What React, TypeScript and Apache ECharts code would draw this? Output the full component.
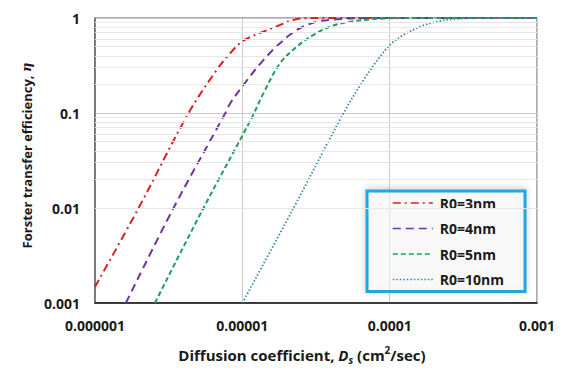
import React, { useEffect, useRef } from "react";
import * as echarts from "echarts";

// Diffusion coefficient (cm^2/sec) vs Forster transfer efficiency
const seriesNames = ["R0=3nm", "R0=4nm", "R0=5nm", "R0=10nm"];

const r0_3nm: [number, number][] = [
  [1e-6, 0.00148], [1.97e-6, 0.0099], [4.3e-6, 0.099], [6.7e-6, 0.284],
  [8.26e-6, 0.425], [1.016e-5, 0.577], [1.39e-5, 0.718], [1.8e-5, 0.843],
  [2.2e-5, 0.95], [2.57e-5, 0.993], [4e-5, 1], [1e-3, 1],
];
const r0_4nm: [number, number][] = [
  [1.62e-6, 0.001], [3.4e-6, 0.0099], [7.64e-6, 0.099], [8.26e-6, 0.126],
  [1.016e-5, 0.197], [1.39e-5, 0.361], [1.8e-5, 0.541], [2.34e-5, 0.748],
  [3.2e-5, 0.914], [4.37e-5, 0.968], [6e-5, 0.995], [1e-4, 1], [1e-3, 1],
];
const r0_5nm: [number, number][] = [
  [2.55e-6, 0.001], [5.43e-6, 0.0099], [1.15e-5, 0.087], [1.39e-5, 0.161],
  [1.8e-5, 0.333], [2.34e-5, 0.499], [3.03e-5, 0.662], [3.94e-5, 0.811],
  [5.12e-5, 0.9], [7.36e-5, 0.968], [1e-4, 0.993], [1.5e-4, 1], [1e-3, 1],
];
const r0_10nm: [number, number][] = [
  [1e-5, 0.001], [2.22e-5, 0.0099], [4.79e-5, 0.0955], [6.64e-5, 0.222],
  [8.61e-5, 0.392], [1.03e-4, 0.541], [1.24e-4, 0.662], [1.61e-4, 0.811],
  [2.09e-4, 0.914], [2.71e-4, 0.975], [3.52e-4, 0.993], [5e-4, 1], [1e-3, 1],
];

const xMin = 1e-6;
const xMax = 1e-3;
const yMin = 0.001;
const yMax = 1;

// minor grid positions (2..9 within each decade)
const minorMultipliers = [2, 3, 4, 5, 6, 7, 8, 9];
const xDecades = [1e-6, 1e-5, 1e-4];
const yDecades = [0.001, 0.01, 0.1];

const FONT = "Open Sans";

export default function App() {
  const ref = useRef<HTMLDivElement>(null);
  useEffect(() => {
    if (!ref.current) return;
    const chart = echarts.init(ref.current, undefined, { renderer: "svg" });

    const minorX = xDecades.flatMap((d) => minorMultipliers.map((m) => ({ xAxis: m * d })));
    const minorY = yDecades.flatMap((d) => minorMultipliers.map((m) => ({ yAxis: m * d })));

    const fmt = (v: number) => {
      const d = Math.round(-Math.log10(v));
      return v.toFixed(Math.max(0, d));
    };

    const baseText = { fontFamily: FONT, fontWeight: "bold" as const, fontSize: 14, color: "#1a1a1a" };

    const lineSeries = (name: string, data: [number, number][], color: string, type: any, width: number) => ({
      name,
      type: "line",
      data,
      symbol: "none",
      showSymbol: false,
      smooth: 0.35,
      z: 3,
      clip: true,
      lineStyle: { color, width, type },
      itemStyle: { color },
    });

    chart.setOption({
      animation: false,
      backgroundColor: "#ffffff",
      grid: {
        left: 95,
        top: 18,
        right: 31,
        bottom: 77,
        show: true,
        borderColor: "#555",
        borderWidth: 1,
      },
      xAxis: {
        type: "log",
        logBase: 10,
        min: xMin,
        max: xMax,
        axisLine: { show: true, lineStyle: { color: "#111", width: 1.5 } },
        axisTick: { show: false },
        splitLine: { show: true, lineStyle: { color: "#c9c9c9", width: 1 } },
        axisLabel: { ...baseText, margin: 15, formatter: fmt },
        name:
          "{a|Diffusion coefficient, }{i|D}{sub|s}{a| (cm}{sup|2}{a|/sec)}",
        nameLocation: "middle",
        nameGap: 42,
        nameTextStyle: {
          padding: [0, 28, 0, 0],
          rich: {
            a: { ...baseText, fontSize: 15, lineHeight: 20, verticalAlign: "middle" },
            i: { ...baseText, fontSize: 15, fontStyle: "italic", lineHeight: 20, verticalAlign: "middle" },
            sub: { ...baseText, fontSize: 10, fontStyle: "italic", lineHeight: 10, verticalAlign: "bottom" },
            sup: { ...baseText, fontSize: 10, lineHeight: 10, verticalAlign: "top" },
          },
        },
      },
      yAxis: {
        type: "log",
        logBase: 10,
        min: yMin,
        max: yMax,
        axisLine: { show: true, lineStyle: { color: "#666", width: 1.5 } },
        axisTick: { show: false },
        splitLine: { show: true, lineStyle: { color: "#c9c9c9", width: 1 } },
        axisLabel: { ...baseText, margin: 15, formatter: fmt },
        name: "{a|Forster transfer efficiency, }{i|η}",
        nameLocation: "middle",
        nameGap: 52,
        nameTextStyle: {
          padding: [0, 0, 0, 10],
          rich: {
            a: { ...baseText, fontSize: 13 },
            i: { ...baseText, fontSize: 13, fontStyle: "italic", fontFamily: "DejaVu Serif" },
          },
        },
      },
      legend: {
        data: seriesNames,
        orient: "vertical",
        left: 367,
        top: 191,
        itemWidth: 40,
        itemHeight: 14,
        itemGap: 11.5,
        padding: [5, 21, 5, 25],
        borderColor: "#27a6dc",
        borderWidth: 3,
        backgroundColor: "rgba(255,255,255,0.6)",
        shadowBlur: 6,
        shadowColor: "rgba(0,0,0,0.25)",
        shadowOffsetY: -1,
        itemStyle: { opacity: 0 },
        lineStyle: { width: 1.6 },
        textStyle: { ...baseText, fontSize: 14, padding: [0, 0, 0, 2] },
      },
      series: [
        {
          name: "minor-grid",
          type: "line",
          data: [],
          z: 1,
          silent: true,
          markLine: {
            silent: true,
            symbol: "none",
            label: { show: false },
            lineStyle: { color: "#e6e6e6", width: 1, type: "solid" },
            data: [...minorX, ...minorY],
          },
        },
        lineSeries(seriesNames[0], r0_3nm, "#d7201f", [8, 4, 2, 4], 2),
        lineSeries(seriesNames[1], r0_4nm, "#7034a0", [8, 5], 2),
        lineSeries(seriesNames[2], r0_5nm, "#1f9e5a", [5, 3], 2),
        lineSeries(seriesNames[3], r0_10nm, "#3a84a8", [1.5, 2], 1.8),
      ],
    });
    return () => chart.dispose();
  }, []);
  return (
    <div
      ref={ref}
      style={{ position: "fixed", left: 0, top: 0, width: 568, height: 380 }}
    />
  );
}
